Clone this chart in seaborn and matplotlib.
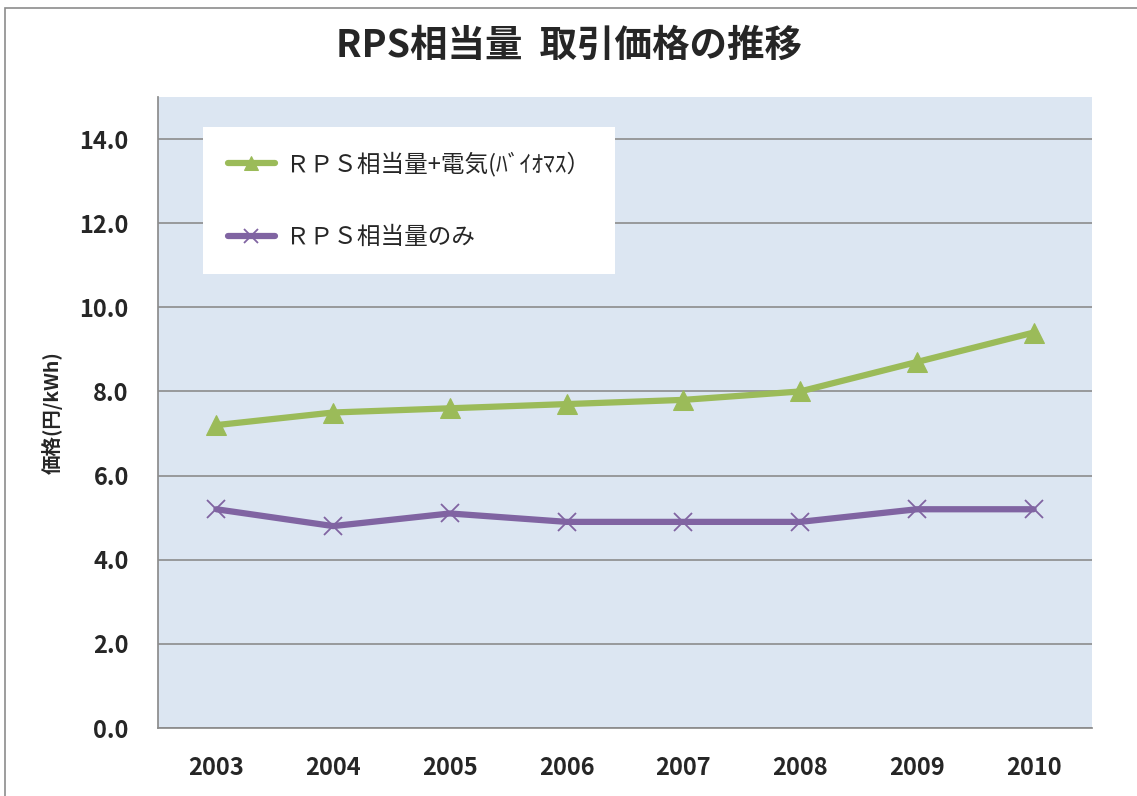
import matplotlib.pyplot as plt
import matplotlib.patches as mpatches
import seaborn as sns
import pandas as pd

years = ['2003', '2004', '2005', '2006', '2007', '2008', '2009', '2010']
rps_plus_elec = [7.2, 7.5, 7.6, 7.7, 7.8, 8.0, 8.7, 9.4]
rps_only = [5.2, 4.8, 5.1, 4.9, 4.9, 4.9, 5.2, 5.2]
series_names = ['ＲＰＳ相当量+電気(ﾊﾞｲｵﾏｽ）', 'ＲＰＳ相当量のみ']
y_ticks = [0, 2, 4, 6, 8, 10, 12, 14]

sns.set_theme(style="white")
plt.rcParams['font.family'] = ['Noto Sans CJK JP', 'DejaVu Sans']

df = pd.DataFrame({'year': years, 'green': rps_plus_elec, 'purple': rps_only})

fig = plt.figure(figsize=(11.37, 7.96), dpi=100)
ax = fig.add_axes([158 / 1137, 1 - 728 / 796, (1092 - 158) / 1137, (728 - 97) / 796])
ax.set_facecolor('#dce6f2')

# outer chart frame
fig.patches.append(mpatches.Rectangle((5 / 1137, -0.1), 1.2, 1 - 8 / 796 + 0.1,
                                      transform=fig.transFigure, fill=False,
                                      edgecolor='#8c8c8c', linewidth=1.2))

sns.lineplot(data=df, x='year', y='green', color='#9bbb59', linewidth=4.5,
             marker='^', markersize=14, markeredgecolor='#9bbb59',
             label=series_names[0], ax=ax, sort=False)
sns.lineplot(data=df, x='year', y='purple', color='#8064a2', linewidth=4.5,
             marker='x', markersize=13, markeredgewidth=1.3, markeredgecolor='#8064a2',
             label=series_names[1], ax=ax, sort=False)

ax.set_xlim(-0.5, len(years) - 0.5)
ax.set_ylim(0, 15)
ax.set_yticks(y_ticks)
ax.set_yticklabels([f'{v:.1f}' for v in y_ticks])
ax.yaxis.grid(True, color='#8c8c8c', linewidth=1.2)
ax.set_axisbelow(True)
for side in ['top', 'right']:
    ax.spines[side].set_visible(False)
ax.spines['left'].set_color('#8c8c8c')
ax.spines['bottom'].set_color('#8c8c8c')
ax.tick_params(axis='both', length=0, labelsize=17)
ax.tick_params(axis='y', pad=21)
ax.tick_params(axis='x', pad=20)
for lbl in ax.get_xticklabels() + ax.get_yticklabels():
    lbl.set_fontweight('bold')

ax.set_xlabel('')
ax.set_ylabel('価格(円/kWh)', fontsize=14, fontweight='bold', labelpad=12)
fig.text(0.5, 1 - 45 / 796, 'RPS相当量  取引価格の推移', ha='center', va='center',
         fontsize=27, fontweight='bold')

leg = ax.legend(loc='upper left', bbox_to_anchor=(45 / 934, 1 - 30 / 631),
                fontsize=17, frameon=True, fancybox=False, framealpha=1,
                edgecolor='white', handlelength=2.0, labelspacing=2.1,
                borderpad=1.05, handletextpad=0.45, markerscale=0.75,
                borderaxespad=0)
leg.get_frame().set_linewidth(0)

fig.savefig('out.png', dpi=100)
